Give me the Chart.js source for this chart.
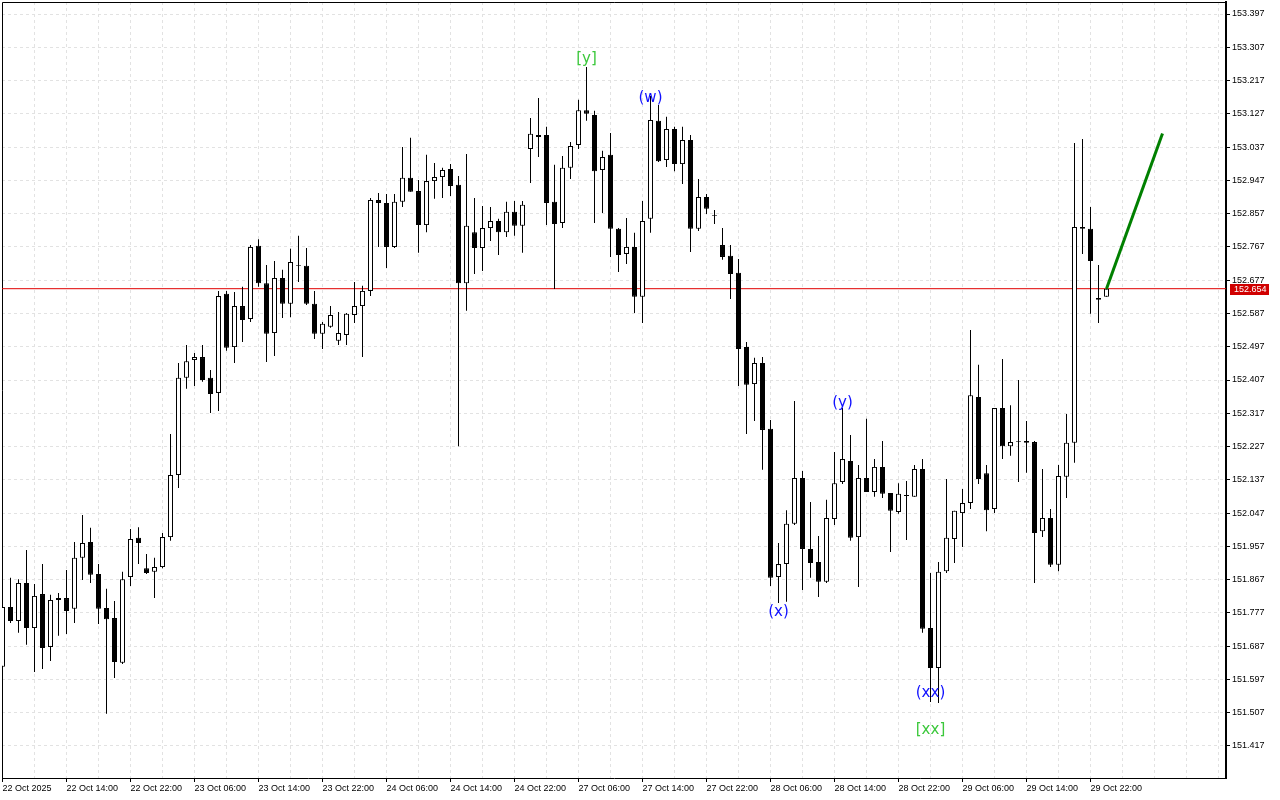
<!DOCTYPE html>
<html>
<head>
<meta charset="utf-8">
<title>USDJPY H1</title>
<script src="https://cdn.jsdelivr.net/npm/chart.js@4.4.0/dist/chart.umd.min.js"></script>
<style>
  html, body { margin: 0; padding: 0; background: #fff; }
  #wrap { width: 1280px; height: 800px; }
</style>
</head>
<body>
<div id="wrap"><canvas id="chart" width="1280" height="800"></canvas></div>
<script>
// hourly bars, 22 Oct 06:00 .. 29 Oct 23:00
const opens = [
  151.631, 151.793, 151.755, 151.858, 151.736, 151.828, 151.685, 151.817, 151.817, 151.788,
  151.926, 151.969, 151.882, 151.790, 151.763, 151.642, 151.874, 151.980, 151.898, 151.888,
  151.901, 151.982, 152.150, 152.413, 152.461, 152.469, 152.413, 152.372, 152.640, 152.496,
  152.607, 152.572, 152.770, 152.669, 152.534, 152.683, 152.613, 152.718, 152.716, 152.613,
  152.532, 152.551, 152.513, 152.529, 152.583, 152.607, 152.648, 152.894, 152.886, 152.767,
  152.889, 152.954, 152.918, 152.826, 152.945, 152.956, 152.978, 152.935, 152.669, 152.807,
  152.764, 152.818, 152.837, 152.807, 152.862, 152.824, 153.032, 153.070, 153.070, 152.889,
  152.832, 152.981, 153.043, 153.137, 153.124, 152.975, 153.016, 152.816, 152.748, 152.767,
  152.632, 152.843, 153.108, 153.002, 153.086, 152.991, 153.056, 152.816, 152.902, 152.853,
  152.772, 152.743, 152.697, 152.496, 152.396, 152.453, 152.275, 151.874, 151.909, 152.018,
  152.142, 151.950, 151.915, 151.861, 152.031, 152.131, 152.188, 151.982, 152.142, 152.104,
  152.172, 152.101, 152.050, 152.096, 152.091, 152.166, 151.736, 151.628, 151.890, 151.977,
  152.047, 152.074, 152.361, 152.155, 152.058, 152.331, 152.228, 152.242, 152.242, 152.239,
  151.998, 152.034, 151.907, 152.145, 152.237, 152.821, 152.816, 152.624, 152.632
];
const highs = [
  151.812, 151.872, 151.868, 151.947, 151.855, 151.909, 151.826, 151.831, 151.893, 151.969,
  152.042, 152.007, 151.909, 151.842, 151.809, 151.888, 152.004, 152.009, 151.936, 151.926,
  151.993, 152.261, 152.453, 152.502, 152.480, 152.502, 152.434, 152.648, 152.648, 152.645,
  152.659, 152.772, 152.788, 152.718, 152.729, 152.705, 152.762, 152.797, 152.764, 152.648,
  152.564, 152.607, 152.591, 152.588, 152.672, 152.662, 152.899, 152.913, 152.910, 152.910,
  153.037, 153.062, 152.948, 153.016, 152.994, 152.981, 152.991, 152.959, 153.018, 152.899,
  152.878, 152.875, 152.843, 152.889, 152.891, 152.891, 153.116, 153.170, 153.092, 152.989,
  153.013, 153.051, 153.165, 153.254, 153.135, 153.027, 153.075, 152.818, 152.845, 152.805,
  152.891, 153.175, 153.151, 153.119, 153.092, 153.092, 153.070, 152.951, 152.910, 152.867,
  152.818, 152.772, 152.734, 152.510, 152.467, 152.469, 152.299, 151.966, 152.055, 152.350,
  152.161, 152.077, 151.985, 152.083, 152.212, 152.331, 152.258, 152.177, 152.302, 152.193,
  152.242, 152.101, 152.128, 152.134, 152.177, 152.193, 151.885, 151.915, 152.139, 152.053,
  152.112, 152.542, 152.448, 152.177, 152.331, 152.464, 152.339, 152.407, 152.296, 152.242,
  152.166, 152.058, 152.177, 152.315, 153.048, 153.059, 152.875, 152.718, 152.656
];
const lows = [
  151.628, 151.750, 151.723, 151.691, 151.617, 151.625, 151.647, 151.715, 151.720, 151.750,
  151.866, 151.858, 151.747, 151.504, 151.601, 151.639, 151.850, 151.909, 151.882, 151.817,
  151.898, 151.972, 152.115, 152.383, 152.391, 152.402, 152.318, 152.323, 152.486, 152.453,
  152.510, 152.564, 152.659, 152.456, 152.472, 152.575, 152.577, 152.672, 152.610, 152.518,
  152.491, 152.548, 152.502, 152.502, 152.561, 152.469, 152.634, 152.767, 152.710, 152.764,
  152.875, 152.916, 152.751, 152.807, 152.897, 152.899, 152.905, 152.228, 152.594, 152.694,
  152.702, 152.783, 152.745, 152.794, 152.797, 152.751, 152.940, 153.010, 152.826, 152.653,
  152.818, 152.951, 153.032, 153.108, 152.832, 152.859, 152.740, 152.699, 152.721, 152.588,
  152.561, 152.805, 152.997, 152.983, 152.972, 152.937, 152.753, 152.810, 152.856, 152.829,
  152.732, 152.626, 152.391, 152.261, 152.296, 152.164, 151.850, 151.804, 151.807, 152.015,
  151.839, 151.872, 151.820, 151.858, 152.015, 152.126, 151.972, 151.847, 152.104, 152.091,
  152.088, 151.942, 152.045, 151.974, 152.091, 151.723, 151.536, 151.533, 151.885, 151.912,
  151.955, 152.058, 152.126, 151.998, 152.047, 152.193, 152.202, 152.131, 152.156, 151.858,
  151.982, 151.901, 151.890, 152.088, 152.183, 152.748, 152.586, 152.561, 152.632
];
const closes = [
  151.793, 151.755, 151.858, 151.736, 151.823, 151.682, 151.812, 151.812, 151.782, 151.926,
  151.966, 151.880, 151.788, 151.760, 151.644, 151.868, 151.977, 151.966, 151.885, 151.901,
  151.982, 152.150, 152.413, 152.458, 152.469, 152.407, 152.369, 152.634, 152.494, 152.607,
  152.569, 152.767, 152.669, 152.532, 152.683, 152.613, 152.726, 152.716, 152.613, 152.532,
  152.559, 152.583, 152.534, 152.586, 152.607, 152.648, 152.894, 152.886, 152.767, 152.889,
  152.954, 152.916, 152.826, 152.945, 152.956, 152.975, 152.932, 152.669, 152.824, 152.764,
  152.818, 152.837, 152.807, 152.862, 152.824, 152.881, 153.073, 153.064, 152.886, 152.829,
  152.981, 153.040, 153.137, 153.127, 152.972, 153.010, 152.816, 152.745, 152.767, 152.632,
  152.837, 153.110, 152.999, 153.086, 152.991, 153.056, 152.816, 152.902, 152.870, 152.851,
  152.740, 152.694, 152.491, 152.394, 152.453, 152.272, 151.872, 151.909, 152.018, 152.142,
  151.950, 151.912, 151.861, 152.034, 152.128, 152.193, 151.980, 152.142, 152.104, 152.172,
  152.099, 152.053, 152.099, 152.093, 152.166, 151.734, 151.628, 151.888, 151.980, 152.053,
  152.074, 152.366, 152.139, 152.055, 152.331, 152.228, 152.239, 152.240, 152.237, 151.993,
  152.034, 151.907, 152.147, 152.237, 152.821, 152.816, 152.729, 152.629, 152.654
];

// one label every 8 bars
const timeLabels = [
  '22 Oct 2025', '22 Oct 14:00', '22 Oct 22:00', '23 Oct 06:00', '23 Oct 14:00', '23 Oct 22:00',
  '24 Oct 06:00', '24 Oct 14:00', '24 Oct 22:00', '27 Oct 06:00', '27 Oct 14:00', '27 Oct 22:00',
  '28 Oct 06:00', '28 Oct 14:00', '28 Oct 22:00', '29 Oct 06:00', '29 Oct 14:00', '29 Oct 22:00'
];
const priceTicks = [
  153.397, 153.307, 153.217, 153.127, 153.037, 152.947, 152.857, 152.767, 152.677, 152.587,
  152.497, 152.407, 152.317, 152.227, 152.137, 152.047, 151.957, 151.867, 151.777, 151.687,
  151.597, 151.507, 151.417
];

const lastPrice = 152.654;
// projection line (bar index, price)
const projBars = [138, 145];
const projPrices = [152.654, 153.074];

// wave markings
const waveText  = ['[y]', '(w)', '(x)', '(y)', '(xx)', '[xx]'];
const waveBar   = [73, 81, 97, 105, 116, 116];
const wavePrice = [153.275, 153.170, 151.780, 152.345, 151.560, 151.460];
const waveColor = ['#3cc83c', '#1010ff', '#1010ff', '#1010ff', '#1010ff', '#3cc83c'];

const xMin = -0.0625, xMax = 152.9375;
const yMin = 151.3304, yMax = 153.4295;

const font = { family: 'Liberation Sans', size: 9 };

const bodies = opens.map((o, i) => ({ x: i, y: [o, closes[i]] }));
const wicks = lows.map((l, i) => ({ x: i, y: [l, highs[i]] }));
const bodyColors = opens.map((o, i) => closes[i] >= o ? '#ffffff' : '#000000');

// keep the plot box where the terminal draws it
function noPadding(s) {
  s.paddingLeft = 0; s.paddingRight = 0; s.paddingTop = 0; s.paddingBottom = 0;
}

const decor = {
  id: 'decor',
  beforeDatasetsDraw(chart) {
    const { ctx, chartArea: a } = chart;
    ctx.save();
    ctx.strokeStyle = '#000';
    ctx.lineWidth = 1;
    ctx.beginPath();
    ctx.moveTo(a.left + 0.5, a.bottom);
    ctx.lineTo(a.left + 0.5, a.top + 0.5);
    ctx.lineTo(a.right, a.top + 0.5);
    ctx.stroke();
    ctx.restore();
  },
  afterDatasetsDraw(chart) {
    const { ctx, scales } = chart;
    ctx.save();
    ctx.font = '15px "DejaVu Sans"';
    ctx.textAlign = 'center';
    ctx.textBaseline = 'middle';
    waveText.forEach((t, i) => {
      ctx.fillStyle = waveColor[i];
      ctx.fillText(t, scales.x.getPixelForValue(waveBar[i]), scales.y.getPixelForValue(wavePrice[i]));
    });
    ctx.restore();
  },
  afterDraw(chart) {
    const { ctx, chartArea: a, scales } = chart;
    const y = Math.round(scales.y.getPixelForValue(lastPrice));
    ctx.save();
    ctx.fillStyle = '#d00000';
    ctx.fillRect(a.right + 4, y - 5, 39, 11);
    ctx.fillStyle = '#fff';
    ctx.font = '9px "Liberation Sans"';
    ctx.textBaseline = 'middle';
    ctx.fillText(lastPrice.toFixed(3), a.right + 8, y + 0.5);
    ctx.restore();
  }
};

new Chart(document.getElementById('chart'), {
  type: 'bar',
  data: {
    datasets: [
      {
        type: 'line',
        data: projBars.map((b, i) => ({ x: b, y: projPrices[i] })),
        borderColor: '#008000',
        borderWidth: 3,
        pointRadius: 0,
        order: 0
      },
      {
        data: bodies,
        backgroundColor: bodyColors,
        borderColor: '#000',
        borderWidth: 1,
        borderSkipped: false,
        barThickness: 5,
        maxBarThickness: 5,
        grouped: false,
        inflateAmount: 0,
        order: 1
      },
      {
        data: wicks,
        backgroundColor: '#000',
        borderWidth: 0,
        barThickness: 1,
        maxBarThickness: 1,
        grouped: false,
        inflateAmount: 0,
        order: 2
      },
      {
        type: 'line',
        data: [{ x: xMin, y: lastPrice }, { x: xMax, y: lastPrice }],
        borderColor: '#e00000',
        borderWidth: 1,
        pointRadius: 0,
        order: 3
      }
    ]
  },
  options: {
    responsive: false,
    animation: false,
    devicePixelRatio: 1,
    layout: { padding: { left: 2, top: 2, right: 0, bottom: 0 }, autoPadding: false },
    plugins: { legend: { display: false }, tooltip: { enabled: false } },
    scales: {
      x: {
        type: 'linear',
        offset: false,
        min: xMin,
        max: xMax,
        afterFit: s => { s.height = 22; noPadding(s); },
        afterBuildTicks: s => {
          const t = [];
          for (let v = 0; v <= 152; v += 4) t.push({ value: v });
          s.ticks = t;
        },
        ticks: {
          font, color: '#000', autoSkip: false, maxRotation: 0, align: 'start', padding: 1,
          callback: v => (v % 8 === 0 && timeLabels[v / 8]) ? timeLabels[v / 8] : ''
        },
        grid: {
          offset: false,
          color: c => (c.tick && c.tick.value % 4 === 0) ? '#e2e2e2' : 'transparent',
          tickColor: c => (c.tick && c.tick.value % 8 === 0 && timeLabels[c.tick.value / 8]) ? '#000' : 'transparent',
          tickLength: 4,
          tickWidth: 1,
          tickBorderDash: []
        },
        border: { color: '#000', width: 1, dash: [3, 3] }
      },
      y: {
        position: 'right',
        min: yMin,
        max: yMax,
        afterFit: s => { s.width = 54; noPadding(s); },
        afterBuildTicks: s => { s.ticks = priceTicks.map(v => ({ value: v })); },
        ticks: { font, color: '#000', padding: 2, autoSkip: false, callback: v => v.toFixed(3) },
        grid: { color: '#e2e2e2', tickColor: '#000', tickLength: 4, tickWidth: 1, tickBorderDash: [] },
        border: { color: '#000', width: 2, dash: [3, 3] }
      }
    }
  },
  plugins: [decor]
});
</script>
</body>
</html>
